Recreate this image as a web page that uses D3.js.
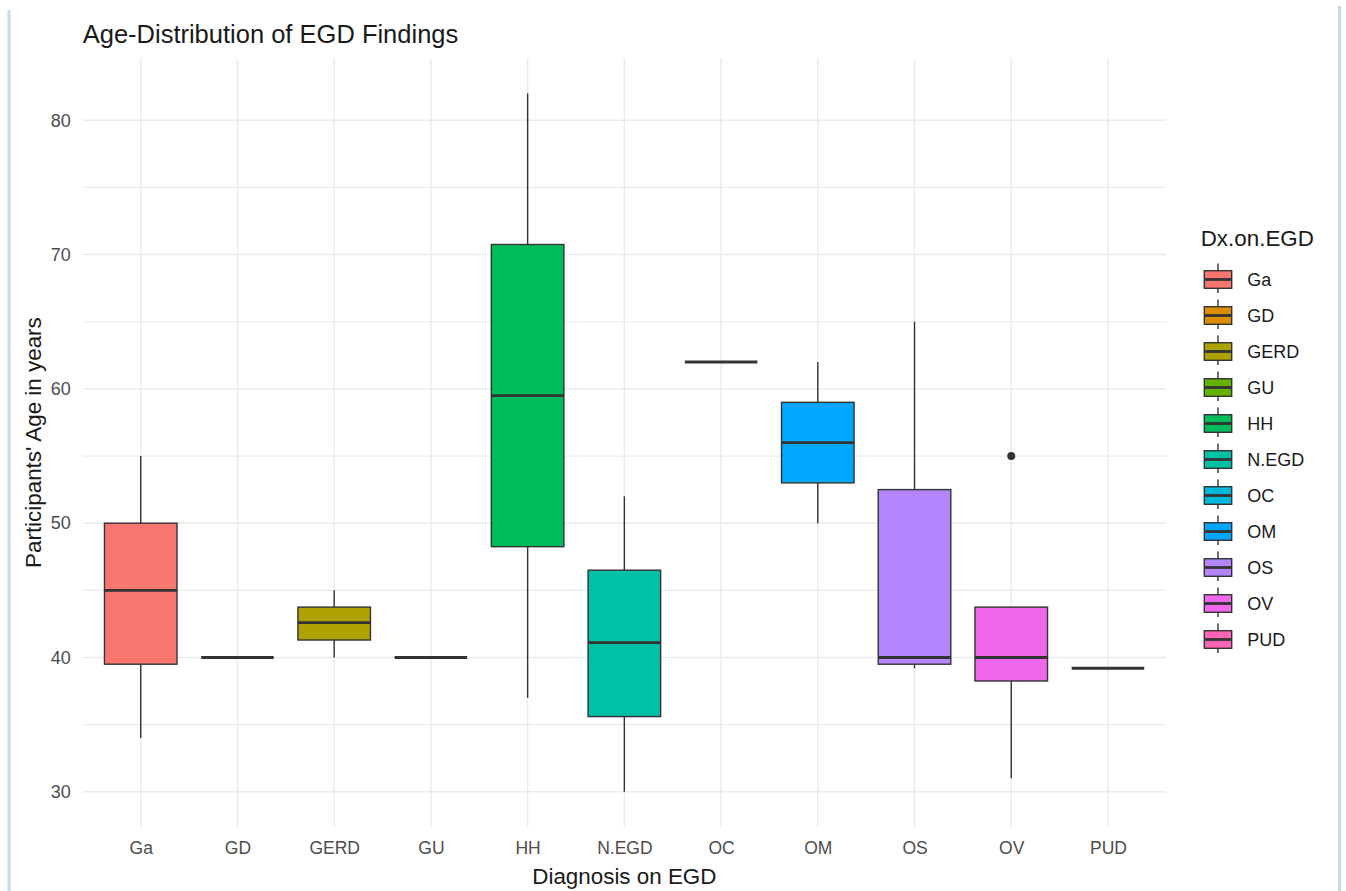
<!DOCTYPE html>
<html lang="en">
<head>
    <meta charset="UTF-8">
    <title>Age-Distribution of EGD Findings</title>
    <script src="https://cdnjs.cloudflare.com/ajax/libs/d3/7.8.5/d3.min.js"></script>
    <style>
        body {
            margin: 0;
            background-color: white;
            font-family: "Liberation Sans", Arial, sans-serif;
        }
        .frame {
            stroke: #c6d9ee;
            stroke-width: 3;
        }
    </style>
</head>
<body>
    <svg id="chart" width="1346" height="891"></svg>

    <script>
        // Data
        const categories = ["Ga", "GD", "GERD", "GU", "HH", "N.EGD", "OC", "OM", "OS", "OV", "PUD"];
        const whiskerLow = [34, 40, 40, 40, 37, 30, 62, 50, 39.2, 31, 39.2];
        const q1Values = [39.5, 40, 41.3, 40, 48.25, 35.6, 62, 53, 39.5, 38.25, 39.2];
        const medians = [45, 40, 42.6, 40, 59.5, 41.1, 62, 56, 40, 40, 39.2];
        const q3Values = [50, 40, 43.75, 40, 70.75, 46.5, 62, 59, 52.5, 43.75, 39.2];
        const whiskerHigh = [55, 40, 45, 40, 82, 52, 62, 62, 65, 43.75, 39.2];
        const outliers = [[], [], [], [], [], [], [], [], [], [55], []];
        const yTicks = [30, 40, 50, 60, 70, 80];
        const yMinorTicks = [35, 45, 55, 65, 75];
        const fillColors = ["#F8766D", "#DB8E00", "#AEA200", "#64B200", "#00BD5C", "#00C1A7",
                            "#00BADE", "#00A6FF", "#B385FF", "#EF67EB", "#FF63B6"];

        const boxes = categories.map((c, i) => ({
            cat: c,
            lo: whiskerLow[i],
            q1: q1Values[i],
            med: medians[i],
            q3: q3Values[i],
            hi: whiskerHigh[i],
            out: outliers[i],
            color: fillColors[i]
        }));

        const panel = { left: 82.7, right: 1166, top: 58.5, bottom: 826.7 };

        const svg = d3.select("#chart");

        // light frame lines at the page edges
        svg.append("line").attr("class", "frame")
            .attr("x1", 9).attr("x2", 9).attr("y1", 10).attr("y2", 891);
        svg.append("line").attr("class", "frame")
            .attr("x1", 1339.5).attr("x2", 1339.5).attr("y1", 6).attr("y2", 891);

        const x = d3.scalePoint()
            .domain(categories)
            .range([panel.left, panel.right])
            .padding(0.6);

        const y = d3.scaleLinear()
            .domain([27.4, 84.6])
            .range([panel.bottom, panel.top]);

        const boxWidth = x.step() * 0.75;

        // Grid
        const grid = svg.append("g");
        grid.selectAll("line.minor")
            .data(yMinorTicks)
            .enter().append("line")
            .attr("x1", panel.left).attr("x2", panel.right)
            .attr("y1", d => y(d)).attr("y2", d => y(d))
            .style("stroke", "#EBEBEB").style("stroke-width", 1.2);
        grid.selectAll("line.major")
            .data(yTicks)
            .enter().append("line")
            .attr("x1", panel.left).attr("x2", panel.right)
            .attr("y1", d => y(d)).attr("y2", d => y(d))
            .style("stroke", "#EBEBEB").style("stroke-width", 1.5);
        grid.selectAll("line.vert")
            .data(categories)
            .enter().append("line")
            .attr("x1", d => x(d)).attr("x2", d => x(d))
            .attr("y1", panel.top).attr("y2", panel.bottom)
            .style("stroke", "#EBEBEB").style("stroke-width", 1.5);

        // Axes (text only, like theme_minimal)
        const yAxis = svg.append("g")
            .attr("transform", `translate(${panel.left - 12},0)`)
            .call(d3.axisLeft(y).tickValues(yTicks).tickSize(0).tickPadding(0));
        yAxis.select(".domain").remove();
        yAxis.selectAll("text")
            .style("font-family", "'Liberation Sans', Arial, sans-serif")
            .style("font-size", "18px")
            .style("fill", "#4D4D4D");

        const xAxis = svg.append("g")
            .attr("transform", `translate(0,${panel.bottom})`)
            .call(d3.axisBottom(x).tickSize(0).tickPadding(0));
        xAxis.select(".domain").remove();
        xAxis.selectAll("text")
            .attr("dy", null)
            .attr("y", 27)
            .style("font-family", "'Liberation Sans', Arial, sans-serif")
            .style("font-size", "17.5px")
            .style("fill", "#4D4D4D");

        // Boxes
        const g = svg.append("g");
        boxes.forEach(b => {
            const cx = x(b.cat);
            g.append("line")
                .attr("x1", cx).attr("x2", cx)
                .attr("y1", y(b.hi)).attr("y2", y(b.q3))
                .style("stroke", "#333").style("stroke-width", 1.4);
            g.append("line")
                .attr("x1", cx).attr("x2", cx)
                .attr("y1", y(b.q1)).attr("y2", y(b.lo))
                .style("stroke", "#333").style("stroke-width", 1.4);
            g.append("rect")
                .attr("x", cx - boxWidth / 2)
                .attr("y", y(b.q3))
                .attr("width", boxWidth)
                .attr("height", y(b.q1) - y(b.q3))
                .style("fill", b.color)
                .style("stroke", "#333")
                .style("stroke-width", 1.4);
            g.append("line")
                .attr("x1", cx - boxWidth / 2).attr("x2", cx + boxWidth / 2)
                .attr("y1", y(b.med)).attr("y2", y(b.med))
                .style("stroke", "#333").style("stroke-width", 2.8);
            b.out.forEach(o => {
                g.append("circle")
                    .attr("cx", cx).attr("cy", y(o))
                    .attr("r", 4)
                    .style("fill", "#333");
            });
        });

        // Titles
        svg.append("text")
            .attr("x", panel.left)
            .attr("y", 43)
            .style("font-size", "25.5px")
            .style("fill", "#1a1a1a")
            .text("Age-Distribution of EGD Findings");

        svg.append("text")
            .attr("x", (panel.left + panel.right) / 2)
            .attr("y", 884)
            .attr("text-anchor", "middle")
            .style("font-size", "22.4px")
            .style("fill", "#1a1a1a")
            .text("Diagnosis on EGD");

        svg.append("text")
            .attr("transform", `translate(41,${(panel.top + panel.bottom) / 2}) rotate(-90)`)
            .attr("text-anchor", "middle")
            .style("font-size", "22.4px")
            .style("fill", "#1a1a1a")
            .text("Participants' Age in years");

        // Legend
        const legend = svg.append("g");
        legend.append("text")
            .attr("x", 1200.7)
            .attr("y", 246)
            .style("font-size", "22.4px")
            .style("fill", "#1a1a1a")
            .text("Dx.on.EGD");

        const keyX = 1218, keyTop = 279.5, keyStep = 36;
        const items = legend.selectAll("g.item")
            .data(boxes)
            .enter().append("g")
            .attr("transform", (d, i) => `translate(${keyX},${keyTop + i * keyStep})`);
        items.append("line")
            .attr("x1", 0).attr("x2", 0).attr("y1", -16).attr("y2", 13.5)
            .style("stroke", "#333").style("stroke-width", 1.4);
        items.append("rect")
            .attr("x", -13.7).attr("y", -8.8)
            .attr("width", 27.4).attr("height", 17.6)
            .style("fill", d => d.color)
            .style("stroke", "#333").style("stroke-width", 1.4);
        items.append("line")
            .attr("x1", -13.7).attr("x2", 13.7).attr("y1", 0).attr("y2", 0)
            .style("stroke", "#333").style("stroke-width", 2.8);
        items.append("text")
            .attr("x", 29.3)
            .attr("dy", "0.36em")
            .style("font-size", "18px")
            .style("fill", "#1a1a1a")
            .text(d => d.cat);
    </script>
</body>
</html>
